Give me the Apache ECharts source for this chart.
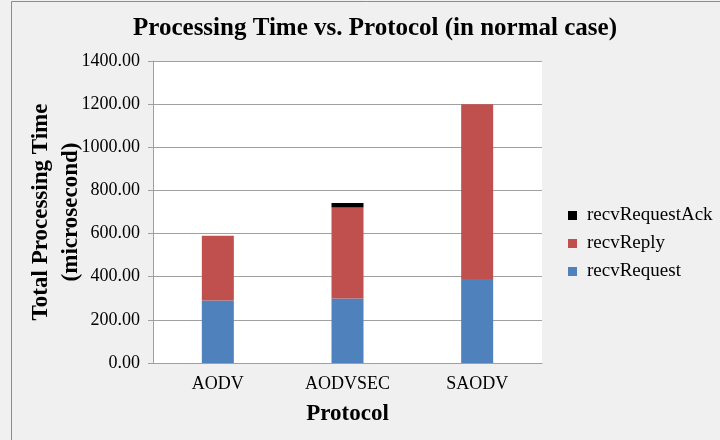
<!DOCTYPE html>
<html>
<head>
<meta charset="utf-8">
<script src="https://cdn.jsdelivr.net/npm/echarts@6/dist/echarts.min.js"></script>
<style>
  html, body { margin: 0; padding: 0; background: #f0f0f0; }
  #chart { width: 720px; height: 440px; }
</style>
</head>
<body>
<div id="chart"></div>
<script>
// Protocols on the x axis
const protocols = ['AODV', 'AODVSEC', 'SAODV'];
// Stacked processing-time components (microseconds)
const recvRequest = [290, 299, 389];
const recvReply = [300, 422, 811];
const recvRequestAck = [0, 21, 0];
// Y axis range
const yMin = 0;
const yMax = 1400;
const yStep = 200;

const serif = '"Liberation Serif", "DejaVu Serif", serif';

const chart = echarts.init(document.getElementById('chart'), null, { renderer: 'canvas' });

const barCommon = { type: 'bar', stack: 'total', barWidth: 32 };

chart.setOption({
  backgroundColor: '#f0f0f0',
  animation: false,
  graphic: [
    {
      type: 'rect',
      shape: { x: 11.5, y: 1.5, width: 800, height: 500 },
      style: { fill: 'none', stroke: '#8c8c8c', lineWidth: 1 },
      silent: true
    }
  ],
  title: {
    text: 'Processing Time vs. Protocol (in normal case)',
    left: 370,
    textAlign: 'center',
    top: 11,
    textStyle: { fontFamily: serif, fontWeight: 'bold', fontSize: 25, color: '#000' }
  },
  legend: {
    orient: 'vertical',
    left: 563,
    top: 201,
    itemGap: 9,
    itemWidth: 9,
    itemHeight: 9,
    icon: 'rect',
    data: ['recvRequestAck', 'recvReply', 'recvRequest'],
    textStyle: { fontFamily: serif, fontSize: 19, color: '#000', padding: [0, 0, 0, 5] }
  },
  grid: {
    left: 153,
    top: 61,
    width: 389,
    height: 302,
    show: true,
    backgroundColor: '#ffffff',
    borderWidth: 0
  },
  xAxis: {
    type: 'category',
    data: protocols,
    name: 'Protocol',
    nameLocation: 'middle',
    nameGap: 40,
    nameTextStyle: { fontFamily: serif, fontWeight: 'bold', fontSize: 23, color: '#000' },
    axisLine: { lineStyle: { color: '#a0a0a0' } },
    axisTick: { show: false },
    axisLabel: { fontFamily: serif, fontSize: 18, color: '#000', margin: 12 }
  },
  yAxis: {
    type: 'value',
    min: yMin,
    max: yMax,
    interval: yStep,
    name: 'Total Processing Time\n(microsecond)',
    nameLocation: 'middle',
    nameGap: 67,
    nameMoveOverlap: false,
    nameRotate: 90,
    nameTextStyle: { fontFamily: serif, fontWeight: 'bold', fontSize: 23, color: '#000', lineHeight: 30 },
    axisLine: { show: true, lineStyle: { color: '#a0a0a0' } },
    axisTick: { show: true, length: 5, lineStyle: { color: '#a0a0a0' } },
    axisLabel: {
      fontFamily: serif, fontSize: 18, color: '#000', margin: 13,
      formatter: v => v.toFixed(2)
    },
    splitLine: { show: true, lineStyle: { color: '#a0a0a0' } }
  },
  series: [
    Object.assign({}, barCommon, { name: 'recvRequest', data: recvRequest, itemStyle: { color: '#4f81bd' } }),
    Object.assign({}, barCommon, { name: 'recvReply', data: recvReply, itemStyle: { color: '#c0504d' } }),
    Object.assign({}, barCommon, { name: 'recvRequestAck', data: recvRequestAck, itemStyle: { color: '#000000' } })
  ]
});
</script>
</body>
</html>
